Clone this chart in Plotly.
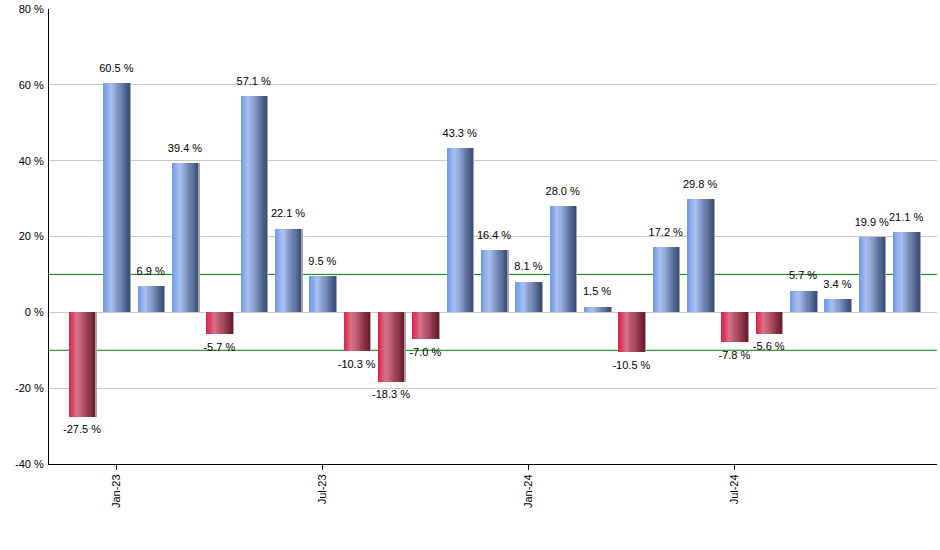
import plotly.graph_objects as go

months = ["Dec-22", "Jan-23", "Feb-23", "Mar-23", "Apr-23", "May-23", "Jun-23", "Jul-23",
          "Aug-23", "Sep-23", "Oct-23", "Nov-23", "Dec-23", "Jan-24", "Feb-24", "Mar-24",
          "Apr-24", "May-24", "Jun-24", "Jul-24", "Aug-24", "Sep-24", "Oct-24", "Nov-24", "Dec-24"]
values = [-27.5, 60.5, 6.9, 39.4, -5.7, 57.1, 22.1, 9.5, -10.3, -18.3, -7.0, 43.3, 16.4, 8.1,
          28.0, 1.5, -10.5, 17.2, 29.8, -7.8, -5.6, 5.7, 3.4, 19.9, 21.1]
xtick_labels = ["Jan-23", "Jul-23", "Jan-24", "Jul-24"]
ytick_vals = [-40, -20, 0, 20, 40, 60, 80]
ytick_text = [f"{v} %" for v in ytick_vals]
band = [10, -10]

x = list(range(len(months)))
xtick_pos = [months.index(m) for m in xtick_labels]

BAR_W = 0.76
N = 24

blue_stops = [(0.0, (110, 152, 230)), (0.3, (170, 193, 242)), (1.0, (57, 77, 116))]
red_stops = [(0.0, (220, 31, 69)), (0.3, (216, 115, 138)), (1.0, (107, 26, 43))]


def interp(stops, t):
    for (t0, c0), (t1, c1) in zip(stops[:-1], stops[1:]):
        if t0 <= t <= t1:
            f = (t - t0) / (t1 - t0) if t1 > t0 else 0
            c = [round(a + (b - a) * f) for a, b in zip(c0, c1)]
            return f"rgb({c[0]},{c[1]},{c[2]})"
    c = stops[-1][1]
    return f"rgb({c[0]},{c[1]},{c[2]})"


fig = go.Figure()

# shadow
fig.add_trace(go.Bar(x=x, y=values, width=BAR_W, offset=-BAR_W / 2 + 0.045,
                     marker=dict(color="rgb(165,165,165)", line=dict(width=0)),
                     hoverinfo="skip", showlegend=False))

for k in range(N):
    t = (k + 0.5) / N
    colors = [interp(blue_stops if v >= 0 else red_stops, t) for v in values]
    fig.add_trace(go.Bar(x=x, y=values, width=BAR_W - k * BAR_W / N,
                         offset=-BAR_W / 2 + k * BAR_W / N,
                         marker=dict(color=colors, line=dict(width=0)),
                         hoverinfo="skip", showlegend=False))

labels = [f"{v:.1f} %" for v in values]
fig.add_trace(go.Scatter(x=x, y=values, mode="markers+text", text=labels,
                         marker=dict(size=12, color="rgba(0,0,0,0)"),
                         textposition=["top center" if v >= 0 else "bottom center" for v in values],
                         textfont=dict(family="Liberation Sans, Arial", size=11, color="black"),
                         hoverinfo="skip", showlegend=False))

for b in band:
    fig.add_shape(type="line", xref="paper", x0=0, x1=1, yref="y", y0=b, y1=b,
                  line=dict(color="rgb(0,128,0)", width=1), layer="below")

fig.update_layout(
    width=940, height=550,
    margin=dict(l=49, r=3, t=9, b=86),
    paper_bgcolor="white", plot_bgcolor="white",
    barmode="overlay", bargap=0,
    font=dict(family="Liberation Sans, Arial", size=11, color="black"),
    showlegend=False,
    xaxis=dict(range=[-0.96, 24.9], tickvals=xtick_pos, ticktext=xtick_labels,
               tickangle=-90, ticks="outside", ticklen=5, tickcolor="black",
               showgrid=False, zeroline=False, showline=True, linecolor="black",
               linewidth=1, tickfont=dict(size=11)),
    yaxis=dict(range=[-40, 80], tickvals=ytick_vals, ticktext=ytick_text,
               ticks="", ticklabelstandoff=2,
               showgrid=True, gridcolor="rgb(200,200,200)", gridwidth=1,
               zeroline=True, zerolinecolor="rgb(200,200,200)", zerolinewidth=1,
               showline=True, linecolor="black", linewidth=1, tickfont=dict(size=11)),
)

fig.write_html("out.html")
